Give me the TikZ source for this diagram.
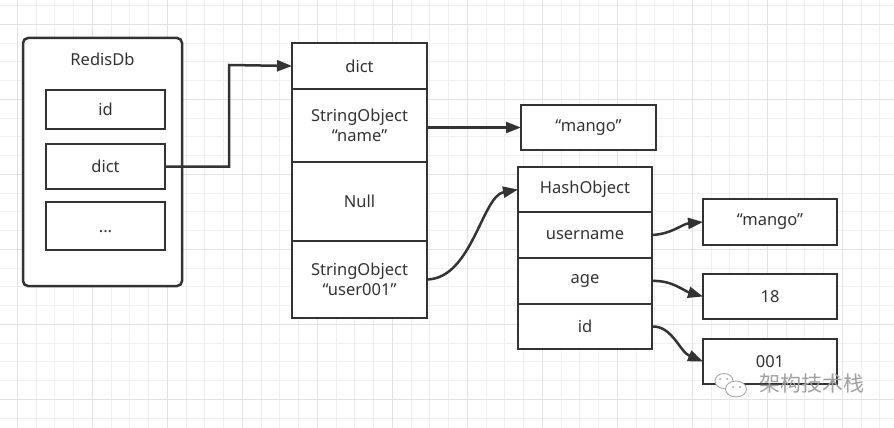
\documentclass[tikz,border=0pt]{standalone}
\usepackage{fontspec}
\setmainfont{Noto Sans}
\newfontfamily\cjk{Noto Sans CJK SC}
\usetikzlibrary{arrows.meta}
\definecolor{ink}{HTML}{333333}
\definecolor{gridminor}{HTML}{F0F0F0}
\definecolor{gridmajor}{HTML}{E2E2E2}
\definecolor{wm}{HTML}{A0A0A0}
\newcommand\mkbox[6]{\node[box, minimum width={(#4)-(#2)}, minimum height={(#5)-(#3)}] (#1) at ({((#2)+(#4))/2},{((#3)+(#5))/2+1}) {#6};}
\begin{document}
\begin{tikzpicture}[x=1pt,y=-1pt,
  box/.style={draw=ink, line width=2.5pt, fill=white, inner sep=0pt, outer sep=0pt,
    text=ink, font=\fontsize{16.5}{20}\selectfont, align=center},
  arr/.style={draw=ink, line width=2.5pt, -{Triangle[length=15pt,width=11pt]}},
  gmin/.style={draw=gridminor, line width=1pt},
  gmaj/.style={draw=gridmajor, line width=1pt}]
\useasboundingbox (0,0) rectangle (894,428);
\fill[white] (0,0) rectangle (894,428);
% grid
\foreach \i in {-1,...,47}{\pgfmathsetmacro\xx{17.3+18.75*\i}\draw[gmin] (\xx,0) -- (\xx,428);}
\foreach \j in {-1,...,21}{\pgfmathsetmacro\yy{24.3+18.75*\j}\draw[gmin] (0,\yy) -- (894,\yy);}
\foreach \i in {0,...,11}{\pgfmathsetmacro\xx{17.3+75*\i}\draw[gmaj] (\xx,0) -- (\xx,428);}
\foreach \j in {0,...,5}{\pgfmathsetmacro\yy{24.3+75*\j}\draw[gmaj] (0,\yy) -- (894,\yy);}
% RedisDb
\node[box, rounded corners=5pt, minimum width=159, minimum height=248] (redis) at (102.5,162) {};
\node[text=ink, font=\fontsize{16.5}{20}\selectfont] (rtitle) at (102.5,59) {RedisDb};
\mkbox{rid}{46}{89}{165}{128}{id}
\mkbox{rdict}{46}{143}{165}{188}{dict}
\mkbox{rdots}{46}{201}{165}{249}{\vphantom{dict}...}
% dict table
\mkbox{dtop}{292}{42}{427}{88}{dict}
\mkbox{dname}{292}{88}{427}{161}{StringObject\\“name”}
\mkbox{dnull}{292}{161}{427}{240}{Null}
\mkbox{duser}{292}{240}{427}{317}{StringObject\\“user001”}
\mkbox{mango}{521}{104}{656}{149}{“mango”}
% hash table
\mkbox{htop}{518}{166}{652}{211}{HashObject}
\mkbox{huser}{518}{211}{652}{257}{username}
\mkbox{hage}{518}{257}{652}{303}{age}
\mkbox{hid}{518}{303}{652}{348}{id}
\mkbox{vuser}{703}{198}{837}{244}{“mango”}
\mkbox{vage}{703}{273}{837}{318}{18}
\mkbox{vid}{703}{338}{837}{383}{001}
% connectors
\coordinate (elb) at (229,65);
\draw[arr] (rdict.east) -| (elb) -- (dtop.west);
\draw[arr] (dname.east |- mango.west) -- (mango.west);
\draw[arr] (duser.east) .. controls (472,278.5) and (482,196) .. (htop.west);
\draw[arr] (huser.east) .. controls (672,234) and (682,224) .. (vuser.west);
\draw[arr] (hage.east) .. controls (672,280) and (684,291) .. (vage.west);
\draw[arr] (hid.east) .. controls (672,325.5) and (680,352) .. (vid.west);
% watermark
\draw[wm, fill=white, line width=0.8pt] (724,381) ellipse (9 and 7.5);
\draw[wm, fill=white, line width=0.8pt] (736,389) ellipse (10.5 and 8);
\fill[wm] (720,379) circle (1) (727,379) circle (1) (733,387) circle (1) (740,387) circle (1);
\node[text=wm, font=\cjk\fontsize{21}{21}\selectfont, inner sep=0pt] (wmtext) at (812,384) {架构技术栈};
\end{tikzpicture}
\end{document}
